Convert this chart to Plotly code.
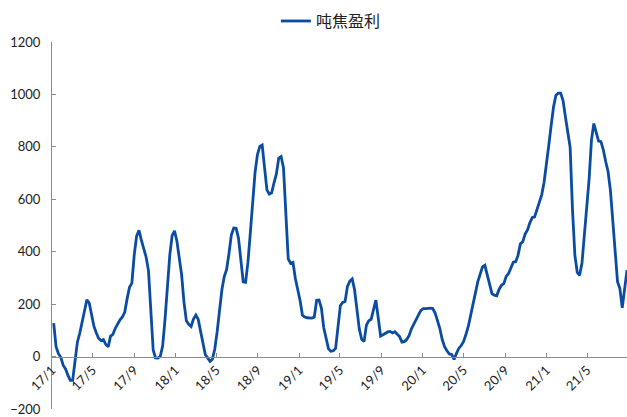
import pandas as pd
import plotly.graph_objects as go

# Weekly coke profit per tonne (yuan/t), first reading on 2017-01-06
start_date = "2017-01-06"
profit = [
    128, 38, 11, -3, -33, -47, -71, -91, -91, -20,
    55, 89, 134, 182, 217, 204, 152, 115, 90, 69,
    61, 65, 46, 37, 78, 85, 108, 126, 140, 151,
    170, 221, 264, 280, 388, 460, 482, 444, 416, 380,
    329, 157, 25, -5, -6, 1, 41, 143, 286, 387,
    461, 480, 441, 372, 312, 207, 137, 123, 115, 143,
    158, 142, 94, 42, 7, -5, -18, -10, 29, 95,
    181, 255, 305, 332, 394, 464, 490, 489, 452, 371,
    285, 283, 360, 472, 585, 703, 770, 802, 807, 709,
    636, 620, 625, 663, 697, 757, 763, 720, 523, 373,
    356, 359, 299, 262, 214, 158, 151, 148, 147, 147,
    151, 215, 216, 185, 110, 63, 30, 20, 22, 31,
    116, 194, 207, 210, 268, 288, 296, 255, 180, 105,
    66, 57, 120, 137, 142, 182, 215, 147, 78, 83,
    90, 94, 96, 90, 95, 85, 76, 55, 57, 65,
    80, 106, 126, 141, 159, 176, 183, 183, 184, 185,
    183, 166, 137, 107, 65, 38, 22, 10, 8, -11,
    12, 31, 42, 57, 84, 115, 157, 195, 242, 285,
    313, 342, 348, 310, 268, 240, 234, 232, 256, 272,
    278, 306, 317, 342, 360, 362, 386, 430, 438, 467,
    483, 510, 530, 533, 561, 590, 617, 665, 730, 807,
    883, 953, 997, 1005, 1005, 977, 915, 854, 798, 559,
    387, 321, 310, 357, 470, 563, 677, 826, 889, 855,
    822, 820, 789, 744, 706, 634, 520, 385, 286, 259,
    186, 258, 330,
]
dates = pd.date_range(start_date, periods=len(profit), freq="7D")

# Axis labels every four months
tick_dates = pd.date_range("2017-01-01", "2021-05-01", freq="4MS")
tick_labels = [f"{d.year % 100}/{d.month}" for d in tick_dates]

series_name = "吨焦盈利"
line_color = "#0b4ca3"
axis_color = "#8c8c8c"
y_min, y_max = -200, 1200

fig = go.Figure()
fig.add_trace(
    go.Scatter(
        x=dates,
        y=profit,
        mode="lines",
        name=series_name,
        line=dict(color=line_color, width=2.8),
    )
)

fig.update_layout(
    width=627,
    height=417,
    margin=dict(l=52, r=0, t=42, b=8),
    paper_bgcolor="white",
    plot_bgcolor="white",
    showlegend=True,
    legend=dict(
        orientation="h",
        x=0.485,
        xanchor="center",
        y=1.057,
        yanchor="middle",
        font=dict(family="Noto Sans CJK SC", size=16, color="#222"),
        itemwidth=30,
        bgcolor="rgba(0,0,0,0)",
    ),
    font=dict(family="Lato, Liberation Sans, sans-serif", size=13, color="#222"),
)

fig.update_xaxes(
    range=["2017-01-01", "2021-08-27"],
    tickmode="array",
    tickvals=tick_dates,
    ticktext=tick_labels,
    tickangle=-45,
    ticks="inside",
    ticklen=4,
    tickcolor=axis_color,
    showline=True,
    linecolor=axis_color,
    linewidth=1,
    showgrid=False,
    zeroline=False,
    anchor="free",
    position=(0 - y_min) / (y_max - y_min),
    tickfont=dict(size=13, color="#222"),
)

fig.update_yaxes(
    range=[y_min, y_max],
    tickmode="linear",
    tick0=y_min,
    dtick=200,
    ticks="inside",
    ticklen=4,
    tickcolor=axis_color,
    showline=True,
    linecolor=axis_color,
    linewidth=1,
    showgrid=False,
    zeroline=False,
    ticklabelstandoff=8,
    tickfont=dict(size=13, color="#222"),
)

fig.write_html("out.html")
